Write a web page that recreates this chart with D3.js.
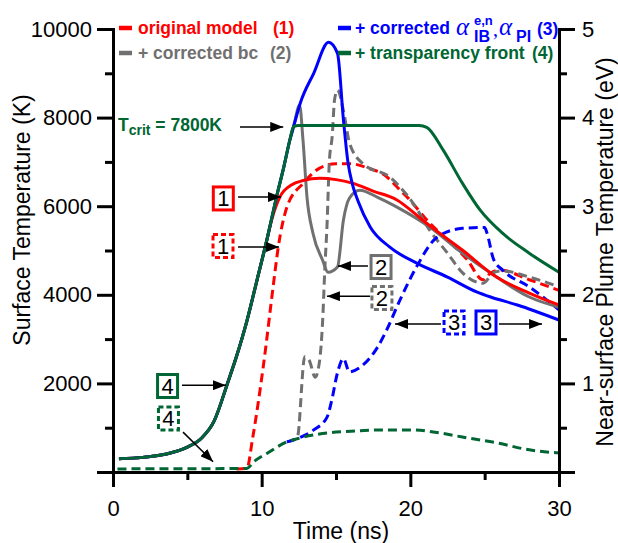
<!DOCTYPE html>
<html>
<head>
<meta charset="utf-8">
<title>Surface and plume temperature</title>
<script src="https://d3js.org/d3.v7.min.js"></script>
<style>
  body { margin: 0; background: #fff; }
  svg { display: block; font-family: "Liberation Sans", Arial, sans-serif; }
</style>
</head>
<body>
<div id="chart"></div>
<script>
// solid curves: [time (ns), surface temperature (K)]
let greenSolid = [[0.4,300],[2,330],[3.5,400],[5,560],[6,780],[6.8,1150],[7.7,2000],[8.3,2600],[9,3400],[9.7,4350],[10.35,5240],[11,6210],[11.5,6900],[11.9,7500],[12.15,7800],[12.5,7820],[20.6,7820],[21.1,7780],[22.2,7270],[23.5,6520],[24.7,5910],[26.2,5390],[28,4940],[30,4510]];
let blueSolid = [[0.4,300],[2,330],[3.5,400],[5,560],[6,780],[6.8,1150],[7.7,2000],[8.3,2600],[9,3400],[9.7,4350],[10.35,5240],[11,6210],[11.5,6900],[11.9,7500],[12.15,7800],[12.6,8330],[13.5,9000],[14.5,9700],[15.1,9450],[15.5,7950],[15.8,7000],[16.1,6500],[16.5,6100],[17.3,5530],[18.6,5080],[20.4,4720],[22.5,4400],[24.5,4060],[25.4,3950],[27.2,3770],[30,3430]];
let graySolid = [[0.4,300],[2,330],[3.5,400],[5,560],[6,780],[6.8,1150],[7.7,2000],[8.3,2600],[9,3400],[9.7,4350],[10.35,5240],[11,6210],[11.5,6900],[11.9,7500],[12.15,7800],[12.55,8280],[12.78,7490],[13.05,6200],[13.45,5390],[14.1,4780],[14.46,4510],[15.1,4630],[15.5,5690],[15.9,6180],[16.6,6360],[17.8,6200],[19.1,5980],[21.3,5530],[23.5,4940],[25.8,4400],[28,3950],[30,3720]];
let redSolid = [[0.4,300],[2,330],[3.5,400],[5,560],[6,780],[6.8,1150],[7.7,2000],[8.3,2600],[9,3400],[9.7,4350],[10.35,5240],[10.7,5720],[11.23,6210],[12,6480],[12.8,6580],[13.9,6630],[15,6600],[16.1,6520],[17.5,6340],[19.1,6140],[20.6,5750],[21.3,5560],[23.5,5010],[25.8,4400],[28,4040],[30,3770]];

// dashed curves: [time (ns), near-surface plume temperature (eV)]
let redDash = [[8.3,0.035],[9.0,0.04],[9.4,0.39],[10.1,1.18],[10.8,2.13],[11.1,2.52],[11.7,2.99],[12.8,3.26],[13.9,3.43],[15.0,3.48],[15.9,3.48],[17.5,3.41],[18.0,3.38],[19.5,3.15],[19.8,3.1],[21.3,2.81],[22.5,2.62],[23.8,2.4],[24.9,2.17],[25.4,2.245],[26.0,2.28],[28,2.17],[30,2.05]];
let grayDash = [[11.7,0.34],[12.4,0.39],[12.9,1.3],[13.2,1.26],[13.6,1.07],[13.9,1.26],[14.1,1.7],[14.25,2.3],[14.4,2.8],[14.55,3.5],[14.75,3.8],[14.9,4.2],[15.1,4.31],[15.5,4.08],[15.9,3.72],[16.8,3.48],[18.6,3.33],[20.2,3.03],[21.3,2.73],[22.5,2.47],[23.5,2.25],[24.9,2.13],[25.6,2.25],[26.2,2.27],[28,2.2],[30,2.09]];
let blueDash = [[11.7,0.34],[12.6,0.39],[13.5,0.475],[14.4,0.62],[14.7,0.8],[15.1,1.12],[15.5,1.28],[15.9,1.13],[16.6,1.18],[17.8,1.41],[18.4,1.6],[19.3,1.94],[20.4,2.31],[21.8,2.65],[23.5,2.75],[25.0,2.76],[25.15,2.7],[25.6,2.4],[26.2,2.28],[28,2.09],[30,1.83]];
let greenDash = [[0.3,0.035],[9.0,0.04],[9.5,0.12],[10.4,0.215],[11.7,0.34],[12.6,0.385],[14.4,0.44],[16,0.46],[18,0.475],[20.2,0.475],[22,0.44],[23.5,0.395],[25.8,0.33],[28,0.25],[30,0.215]];

let xTicks = [0, 10, 20, 30];
let xMinor = [5, 15, 25];
let yTicks = [0, 2000, 4000, 6000, 8000, 10000];
let yMinor = [1000, 3000, 5000, 7000, 9000];
let eTicks = [0, 1, 2, 3, 4, 5];
let eMinor = [0.5, 1.5, 2.5, 3.5, 4.5];

let legendText = ["original model", "+ corrected bc", "+ corrected", "+ transparency front"];
let legendNum = ["(1)", "(2)", "(3)", "(4)"];

let red = "#ff0000", gray = "#707070", blue = "#0000ff", green = "#006633";

let margin = {top: 29, right: 59, bottom: 71, left: 113};
let w = 618 - margin.left - margin.right;
let h = 543 - margin.top - margin.bottom;

let svg = d3.select("#chart").append("svg")
    .attr("width", 618).attr("height", 543);

svg.append("defs").append("marker")
    .attr("id", "head")
    .attr("markerUnits", "userSpaceOnUse")
    .attr("markerWidth", 14).attr("markerHeight", 10)
    .attr("refX", 13).attr("refY", 5)
    .attr("orient", "auto")
  .append("path").attr("d", "M0,0L13,5L0,10z").attr("fill", "#000");

let g = svg.append("g").attr("transform", "translate(" + margin.left + "," + margin.top + ")");

let x = d3.scaleLinear().domain([0, 30]).range([0, w]);
let yK = d3.scaleLinear().domain([0, 10000]).range([h, 0]);
let yE = d3.scaleLinear().domain([0, 5]).range([h, 0]);

function lineFor(ys) {
    return d3.line().x(d => x(d[0])).y(d => ys(d[1])).curve(d3.curveMonotoneX);
}

// dashed first, then solid
let series = [
    {d: redDash, c: red, s: yE, dash: true},
    {d: grayDash, c: gray, s: yE, dash: true},
    {d: blueDash, c: blue, s: yE, dash: true},
    {d: greenDash, c: green, s: yE, dash: true},
    {d: graySolid, c: gray, s: yK},
    {d: redSolid, c: red, s: yK},
    {d: blueSolid, c: blue, s: yK},
    {d: greenSolid, c: green, s: yK}
];
series.forEach(function(se) {
    g.append("path")
        .attr("d", lineFor(se.s)(se.d))
        .attr("fill", "none")
        .attr("stroke", se.c)
        .attr("stroke-width", 3)
        .attr("stroke-dasharray", se.dash ? "9,5" : null);
});

// axis titles
svg.append("text").attr("x", 341).attr("y", 539).attr("text-anchor", "middle")
    .attr("font-size", 23).text("Time (ns)");
svg.append("text").attr("transform", "translate(30,220) rotate(-90)").attr("text-anchor", "middle")
    .attr("font-size", 23).text("Surface Temperature (K)");
svg.append("text").attr("transform", "translate(613,252) rotate(-90)").attr("text-anchor", "middle")
    .attr("font-size", 23).text("Near-surface Plume Temperature (eV)");

// legend
let fs = 17.5;
function legendDash(x0, y0, c) {
    svg.append("line").attr("x1", x0).attr("x2", x0 + 13).attr("y1", y0).attr("y2", y0)
        .attr("stroke", c).attr("stroke-width", 4.5);
}
function boldText(x0, y0, c, t, size) {
    return svg.append("text").attr("x", x0).attr("y", y0).attr("fill", c)
        .attr("font-weight", "bold").attr("font-size", size || fs).text(t);
}
legendDash(119, 28, red);
boldText(138, 34, red, legendText[0]);
boldText(273, 34, red, legendNum[0]);
legendDash(119, 53, gray);
boldText(138, 59, gray, legendText[1]);
boldText(270, 59, gray, legendNum[1]);

legendDash(338, 28, blue);
boldText(355, 34, blue, legendText[2]);
function alpha(x0) {
    svg.append("text").attr("x", x0).attr("y", 35).attr("fill", blue)
        .attr("font-family", "Liberation Serif, DejaVu Serif, serif")
        .attr("font-style", "italic").attr("font-size", 25).text("α");
}
alpha(456);
boldText(474, 25, blue, "e,n", 13);
boldText(474, 42, blue, "IB", 16);
svg.append("text").attr("x", 493).attr("y", 36).attr("fill", blue)
    .attr("font-family", "Liberation Serif, serif").attr("font-size", 20).text(",");
alpha(499);
boldText(516, 42, blue, "PI", 16);
boldText(537, 35, blue, legendNum[2]);

legendDash(338, 53, green);
boldText(355, 59, green, legendText[3]);
boldText(532, 59, green, legendNum[3]);

// T_crit label
let tc = svg.append("text").attr("x", 118).attr("y", 131).attr("fill", green)
    .attr("font-weight", "bold").attr("font-size", fs);
tc.append("tspan").text("T");
tc.append("tspan").attr("font-size", 14).attr("dy", 4).text("crit");
tc.append("tspan").attr("dy", -4).text(" = 7800K");

// arrows (data coordinates: ns, K)
function arrow(t1, k1, t2, k2) {
    g.append("line")
        .attr("x1", x(t1)).attr("y1", yK(k1)).attr("x2", x(t2)).attr("y2", yK(k2))
        .attr("stroke", "#000").attr("stroke-width", 1.5)
        .attr("marker-end", "url(#head)");
}
arrow(8.54, 7790, 11.45, 7790);
arrow(8.41, 6210, 11.3, 6210);
arrow(8.41, 5080, 11.17, 5080);
arrow(17.15, 4650, 15.13, 4650);
arrow(17.29, 3970, 14.39, 3970);
arrow(22.06, 3340, 18.97, 3340);
arrow(25.96, 3340, 28.86, 3340);
arrow(4.64, 1960, 7.6, 1960);
arrow(4.71, 900, 6.73, 230);

// numbered boxes
function box(t, k, c, label, dashed) {
    let cx = x(t), cy = yK(k);
    g.append("rect").attr("x", cx - 10).attr("y", cy - 11.5).attr("width", 20).attr("height", 23)
        .attr("fill", "#fff").attr("stroke", c).attr("stroke-width", 3)
        .attr("stroke-dasharray", dashed ? "5,3" : null);
    g.append("text").attr("x", cx).attr("y", cy + 8).attr("text-anchor", "middle")
        .attr("font-size", 22).attr("fill", "#000").text(label);
}
box(7.42, 6175, red, "1", false);
box(7.40, 5100, red, "1", true);
box(18.03, 4627, gray, "2", false);
box(18.09, 3928, gray, "2", true);
box(22.94, 3375, blue, "3", true);
box(25.09, 3375, blue, "3", false);
box(3.67, 1941, green, "4", false);
box(3.73, 1208, green, "4", true);

// axes, drawn last so they sit on top
function styleAxis(a) {
    a.attr("color", "#000").attr("stroke-width", 3);
    a.selectAll(".domain").attr("stroke", "#000").style("stroke", "#000").style("stroke-width", "3px").style("fill", "none");
    a.selectAll(".tick line").attr("stroke", "#000").style("stroke", "#000").style("stroke-width", "3px");
    a.selectAll("text").attr("font-size", 22).attr("fill", "#000").attr("stroke", "none")
        .attr("font-family", "Liberation Sans, Arial, sans-serif");
}
let noZero = d => d === 0 ? "" : d;
let blank = () => "";

let axes = svg.append("g").attr("transform", "translate(" + margin.left + "," + margin.top + ")");
axes.append("g").call(d3.axisLeft(yK).tickValues(yMinor).tickSize(8).tickSizeOuter(0).tickFormat(blank)).call(styleAxis);
axes.append("g").call(d3.axisLeft(yK).tickValues(yTicks).tickSize(16).tickSizeOuter(0).tickPadding(5).tickFormat(noZero)).call(styleAxis);

axes.append("g").attr("transform", "translate(" + w + ",0)")
    .call(d3.axisRight(yE).tickValues(eMinor).tickSize(8).tickSizeOuter(0).tickFormat(blank)).call(styleAxis);
axes.append("g").attr("transform", "translate(" + w + ",0)")
    .call(d3.axisRight(yE).tickValues(eTicks).tickSize(16).tickSizeOuter(0).tickPadding(7).tickFormat(noZero)).call(styleAxis);

axes.append("g").attr("transform", "translate(0," + h + ")")
    .call(d3.axisBottom(x).tickValues(xMinor).tickSize(8).tickSizeOuter(0).tickFormat(blank)).call(styleAxis);
axes.append("g").attr("transform", "translate(0," + h + ")")
    .call(d3.axisBottom(x).tickValues(xTicks).tickSize(15).tickSizeOuter(0).tickPadding(13)).call(styleAxis);

// frame lines along the scale ranges, in case the axis domain paths are lost
let xr = x.range(), yr = yK.range();
[[xr[0], yr[0], xr[0], yr[1]], [xr[1], yr[0], xr[1], yr[1]], [xr[0], yr[0], xr[1], yr[0]]].forEach(function(s) {
    axes.append("line")
        .attr("x1", s[0] + 0.5).attr("y1", s[1] + 0.5).attr("x2", s[2] + 0.5).attr("y2", s[3] + 0.5)
        .attr("stroke", "#000").attr("stroke-width", 3).attr("stroke-linecap", "square");
});
</script>
</body>
</html>
